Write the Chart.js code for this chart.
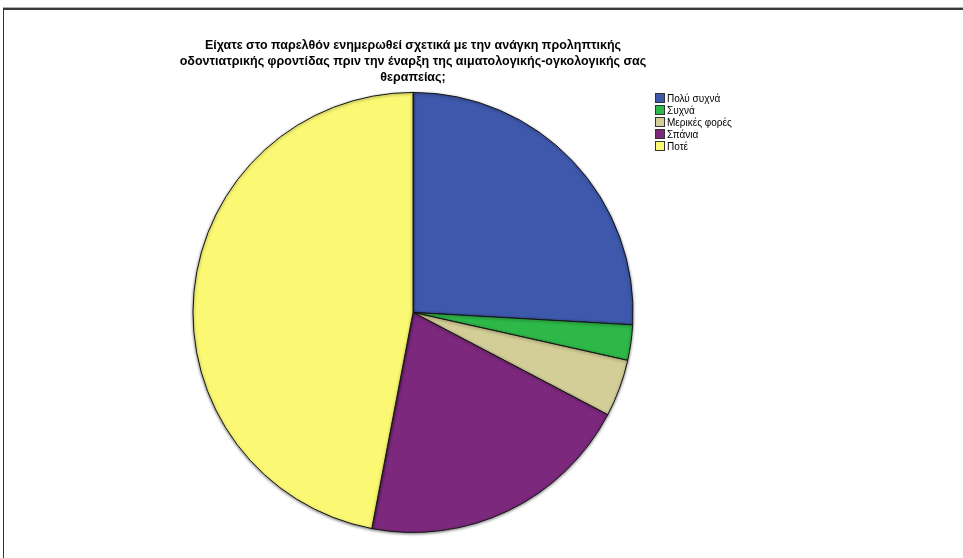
<!DOCTYPE html>
<html>
<head>
<meta charset="utf-8">
<script src="https://cdn.jsdelivr.net/npm/chart.js@4/dist/chart.umd.min.js"></script>
<style>
  html, body { margin:0; padding:0; background:#fff; }
  #wrap { position:relative; width:963px; height:558px; overflow:hidden; }
  #frame { position:absolute; left:3px; top:8px; right:-2px; bottom:-2px;
           border-top:2px solid #3a3a3a; border-left:1px solid #333;
           box-shadow: 0 -1px 0 #b0b0b0; }
  #pie { position:absolute; left:0; top:0; }
  #legend { position:absolute; left:655px; top:93px;
            font:10px "Liberation Sans", Arial, sans-serif; color:#000; }
  #legend div { height:12px; line-height:12px; white-space:nowrap; }
  #legend span { display:inline-block; width:8px; height:8px; border:1px solid #333;
                 vertical-align:-1px; margin-right:2px; }
</style>
</head>
<body>
<div id="wrap">
  <div id="frame"></div>
  <canvas id="pie" width="963" height="558"></canvas>
  <div id="legend"></div>
</div>
<script>
// ====== Datos ======
const titleLines = [
  'Είχατε στο παρελθόν ενημερωθεί σχετικά με την ανάγκη προληπτικής',
  'οδοντιατρικής φροντίδας πριν την έναρξη της αιματολογικής-ογκολογικής σας',
  'θεραπείας;'
];
const labels = ['Πολύ συχνά', 'Συχνά', 'Μερικές φορές', 'Σπάνια', 'Ποτέ'];
const percents = [25.9, 2.6, 4.2, 20.3, 47.0];
const colors = ['#3e58ac', '#2eb848', '#d3ce97', '#7c287d', '#fbf873'];

// ====== Leyenda ======
const legend = document.getElementById('legend');
labels.forEach((l, i) => {
  const row = document.createElement('div');
  const box = document.createElement('span');
  box.style.background = colors[i];
  row.appendChild(box);
  row.appendChild(document.createTextNode(l));
  legend.appendChild(row);
});

// sombra suave en el borde del pastel
const pieShadow = {
  id: 'pieShadow',
  beforeDatasetDraw(chart) {
    const c = chart.ctx;
    c.save();
    c.shadowColor = 'rgba(0,0,0,0.5)';
    c.shadowBlur = 3;
    c.shadowOffsetX = 0;
    c.shadowOffsetY = 1;
  },
  afterDatasetDraw(chart) { chart.ctx.restore(); }
};

new Chart(document.getElementById('pie'), {
  type: 'pie',
  data: {
    labels,
    datasets: [{
      data: percents,
      backgroundColor: colors,
      borderColor: '#151515',
      borderWidth: 1,
      radius: 220
    }]
  },
  options: {
    responsive: false,
    animation: false,
    layout: { padding: { top: 38, bottom: 26, left: 100, right: 237 } },
    plugins: {
      legend: { display: false },
      tooltip: { enabled: false },
      title: {
        display: true,
        text: titleLines,
        color: '#000',
        font: { family: '"Liberation Sans", Arial, sans-serif', size: 12.5, weight: 'bold', lineHeight: 1.25 },
        padding: { top: 0, bottom: 8 }
      }
    }
  },
  plugins: [pieShadow]
});
</script>
</body>
</html>
